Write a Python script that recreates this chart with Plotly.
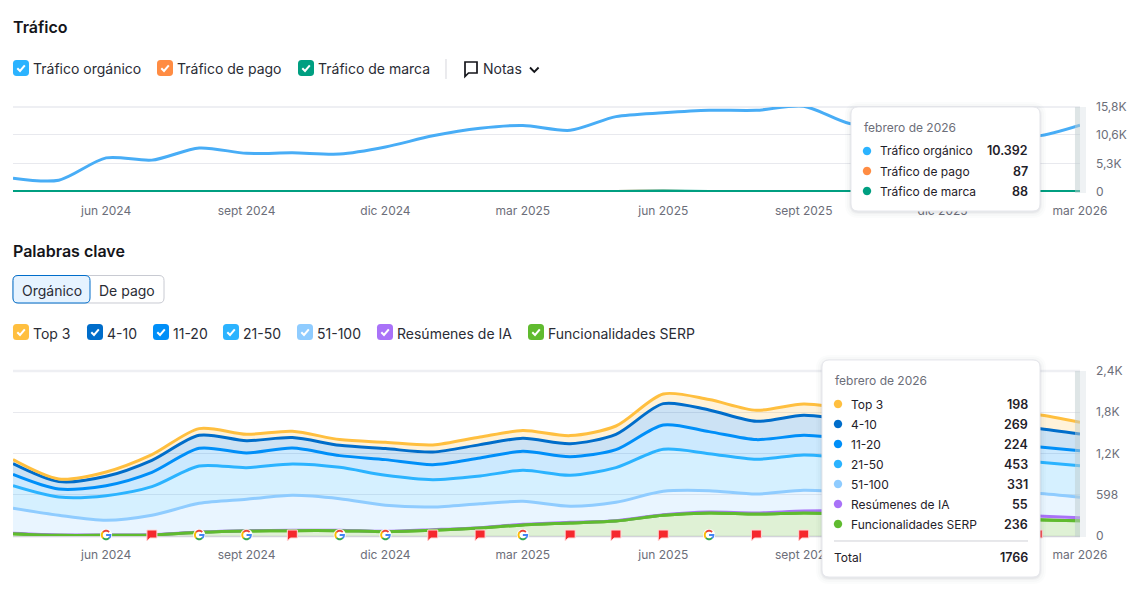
import math
import pandas as pd
import plotly.graph_objects as go

W, H = 1142, 593

# datos mensuales
dates = pd.date_range("2024-04-01", "2026-03-01", freq="MS")

organic = [2577, 2200, 6339, 5925, 8182, 7185, 7280, 7054, 8370, 10440, 11850, 12358,
           11474, 14013, 14728, 15198, 15180, 15932, 12734, 12415, 11850, 10722, 10392, 12415]
paid = [60, 55, 50, 50, 55, 55, 50, 50, 55, 55, 60, 60,
        60, 80, 150, 70, 60, 60, 60, 70, 80, 85, 87, 80]
brand = [70, 70, 75, 75, 80, 80, 80, 80, 85, 85, 85, 85,
         90, 110, 180, 100, 90, 90, 90, 90, 90, 90, 88, 85]

top3 = [59, 38, 63, 82, 97, 92, 92, 83, 92, 102, 111, 112,
        117, 121, 141, 151, 160, 165, 170, 180, 190, 190, 198, 170]
pos4_10 = [155, 107, 136, 175, 189, 179, 151, 150, 160, 184, 194, 189,
           189, 223, 310, 315, 266, 291, 270, 260, 260, 270, 269, 243]
pos11_20 = [165, 117, 145, 208, 258, 214, 232, 170, 228, 218, 262, 277,
            271, 262, 354, 320, 286, 286, 280, 270, 270, 240, 224, 218]
pos21_50 = [329, 266, 359, 417, 543, 460, 456, 456, 437, 398, 403, 451,
            451, 504, 611, 538, 505, 515, 500, 540, 540, 490, 453, 460]
pos51_100 = [364, 286, 213, 282, 417, 456, 510, 461, 378, 330, 349, 334,
             233, 267, 340, 311, 276, 300, 275, 290, 315, 320, 331, 297]
ai_overviews = [5, 5, 5, 4, 5, 5, 4, 4, 5, 10, 5, 10,
                10, 5, 9, 14, 15, 29, 40, 50, 55, 55, 55, 43]
serp = [34, 10, 10, 15, 53, 73, 78, 78, 63, 82, 116, 160,
        189, 218, 301, 335, 320, 335, 325, 310, 290, 265, 236, 223]

x_tick_dates = ["2024-06-01", "2024-09-01", "2024-12-01", "2025-03-01",
                "2025-06-01", "2025-09-01", "2025-12-01", "2026-03-01"]
x_tick_labels = ["jun 2024", "sept 2024", "dic 2024", "mar 2025",
                 "jun 2025", "sept 2025", "dic 2025", "mar 2026"]

traffic_ticks = [0, 5300, 10600, 15800]
traffic_labels = ["0", "5,3K", "10,6K", "15,8K"]
keyword_ticks = [0, 598, 1200, 1800, 2400]
keyword_labels = ["0", "598", "1,2K", "1,8K", "2,4K"]

google_notes = ["2024-06-01", "2024-08-01", "2024-09-01", "2024-11-01", "2024-12-01",
                "2025-03-01", "2025-07-01"]
flag_notes = ["2024-07-01", "2024-10-01", "2025-01-01", "2025-02-01", "2025-04-01",
              "2025-05-01", "2025-06-01", "2025-08-01", "2025-09-01", "2026-02-01"]

traffic_legend = [("Tráfico orgánico", "#2BB3FF", 13), ("Tráfico de pago", "#FF8C43", 157),
                  ("Tráfico de marca", "#009F81", 298)]
keyword_legend = [("Top 3", "#FFBF3F", 13), ("4-10", "#006DCA", 87), ("11-20", "#008FF8", 153),
                  ("21-50", "#2BB3FF", 223), ("51-100", "#8FCCFF", 297),
                  ("Resúmenes de IA", "#A972F8", 377), ("Funcionalidades SERP", "#60BB2F", 528)]

traffic_tip = [("Tráfico orgánico", "#2BB3FF", "10.392"), ("Tráfico de pago", "#FF8C43", "87"),
               ("Tráfico de marca", "#009F81", "88")]
keyword_tip = [("Top 3", "#FFBF3F", "198"), ("4-10", "#006DCA", "269"), ("11-20", "#008FF8", "224"),
               ("21-50", "#2BB3FF", "453"), ("51-100", "#8FCCFF", "331"),
               ("Resúmenes de IA", "#A972F8", "55"), ("Funcionalidades SERP", "#60BB2F", "236")]

FONT = "Inter"
DARK = "#1F2129"
GREY = "#6C6E79"
GRID = "#E8E9EE"


def px(x):
    return x / W


def py(y):
    return 1 - y / H


def round_rect(x0, y0, x1, y1, r):
    # rectangulo redondeado en coordenadas de pixel de la pagina
    pts = [("M", x0 + r, y0), ("L", x1 - r, y0), ("Q", x1, y0, x1, y0 + r), ("L", x1, y1 - r),
           ("Q", x1, y1, x1 - r, y1), ("L", x0 + r, y1), ("Q", x0, y1, x0, y1 - r),
           ("L", x0, y0 + r), ("Q", x0, y0, x0 + r, y0)]
    return poly_path(pts) + " Z"


def poly_path(pts):
    out = []
    for p in pts:
        cmd, vals = p[0], p[1:]
        coords = []
        for i in range(0, len(vals), 2):
            coords.append(f"{px(vals[i]):.5f},{py(vals[i + 1]):.5f}")
        out.append(cmd + " ".join(coords))
    return " ".join(out)


shapes = []
annotations = []


def add_path(path, fill=None, line=None, width=0, layer="above"):
    s = dict(type="path", xref="paper", yref="paper", path=path, layer=layer,
             line=dict(color=line if line else "rgba(0,0,0,0)", width=width))
    if fill:
        s["fillcolor"] = fill
    shapes.append(s)


def add_text(text, x, y, size=14, color=DARK, anchor="left", weight=400):
    annotations.append(dict(text=text, x=px(x), y=py(y), xref="paper", yref="paper", showarrow=False,
                            xanchor=anchor, yanchor="middle", borderpad=0, borderwidth=0,
                            font=dict(family=FONT, size=size, color=color, weight=weight)))


def add_checkbox(x, y, color):
    add_path(round_rect(x, y - 8, x + 16, y + 8, 3.5), fill=color)
    add_path(poly_path([("M", x + 4.3, y + 0.3), ("L", x + 7, y + 3), ("L", x + 11.8, y - 2.6)]),
             line="white", width=2)


def add_dot(x, y, color, r=4.2):
    pts = [("M", x + r, y)]
    for i in range(1, 25):
        a = 2 * math.pi * i / 24
        pts.append(("L", x + r * math.cos(a), y + r * math.sin(a)))
    add_path(poly_path(pts) + " Z", fill=color)


def add_tooltip(x0, y0, x1, y1, title, rows, row_top):
    for grow, alpha in [(6, 0.015), (4, 0.02), (2, 0.03), (1, 0.04)]:
        add_path(round_rect(x0 - grow, y0 - grow + 1, x1 + grow, y1 + grow + 1, 8 + grow),
                 fill=f"rgba(30,35,60,{alpha})")
    add_path(round_rect(x0, y0, x1, y1, 7), fill="white", line="#E6E7EC", width=1)
    add_text(title, x0 + 12.5, y0 + 20, size=12, color=GREY)
    for i, (name, color, value) in enumerate(rows):
        y = row_top + i * 20
        add_dot(x0 + 16, y, color)
        add_text(name, x0 + 29, y, size=12, color=DARK)
        add_text(value, x1 - 12, y, size=12.5, color=DARK, anchor="right", weight=600)


def note_shape(date, path, fill=None, line=None, width=0):
    # yref paper para que no lo recorte el area del grafico
    s = dict(type="path", xref="x2", yref="paper", xsizemode="pixel", ysizemode="pixel",
             xanchor=date, yanchor=py(536), path=path, layer="above",
             line=dict(color=line if line else "rgba(0,0,0,0)", width=width))
    if fill:
        s["fillcolor"] = fill
    shapes.append(s)


def arc_path(a0, a1, r=4.3, cy=1):
    pts = []
    steps = 8
    for i in range(steps + 1):
        a = math.radians(a0 + (a1 - a0) * i / steps)
        pts.append(f"{r * math.cos(a):.2f},{cy + r * math.sin(a):.2f}")
    return "M" + " L".join(pts)


fig = go.Figure()

# Trafico
for name, values, color in [("Tráfico orgánico", organic, "#48ADF6"),
                            ("Tráfico de pago", paid, "#FF8C43"),
                            ("Tráfico de marca", brand, "#009F81")]:
    fig.add_trace(go.Scatter(x=dates, y=values, name=name, mode="lines", xaxis="x", yaxis="y",
                             line=dict(color=color, width=3, shape="spline", smoothing=0.8),
                             cliponaxis=False, showlegend=False))

# Palabras clave, apiladas de abajo hacia arriba
stack = [("Funcionalidades SERP", serp, "#60BB2F", "rgba(96,187,47,0.2)"),
         ("Resúmenes de IA", ai_overviews, "#A972F8", "rgba(169,114,248,0.2)"),
         ("51-100", pos51_100, "#8FCCFF", "rgba(143,204,255,0.2)"),
         ("21-50", pos21_50, "#2BB3FF", "rgba(43,179,255,0.2)"),
         ("11-20", pos11_20, "#008FF8", "rgba(0,143,248,0.2)"),
         ("4-10", pos4_10, "#006DCA", "rgba(0,109,202,0.2)"),
         ("Top 3", top3, "#FFBF3F", "rgba(255,191,63,0.2)")]
for name, values, color, fill in stack:
    fig.add_trace(go.Scatter(x=dates, y=values, name=name, mode="lines", xaxis="x2", yaxis="y2",
                             stackgroup="kw", fillcolor=fill,
                             line=dict(color=color, width=3, shape="spline", smoothing=0.8),
                             cliponaxis=False, showlegend=False))

# la linea verde va por encima de la morada
fig.add_trace(go.Scatter(x=dates, y=serp, mode="lines", xaxis="x2", yaxis="y2",
                         line=dict(color="#60BB2F", width=3, shape="spline", smoothing=0.8),
                         cliponaxis=False, showlegend=False))

# linea superior mas gruesa y base del grafico inferior
add_path(poly_path([("M", 13, 107), ("L", 1080, 107)]), line="#EEEFF3", width=2, layer="below")
add_path(poly_path([("M", 13, 371), ("L", 1080, 371)]), line="#EEEFF3", width=2.5, layer="below")
add_path(poly_path([("M", 13, 536.5), ("L", 1080, 536.5)]), line="#D2D3D9", width=1.5, layer="below")

# banda gris a la derecha de cada grafico
for y0, y1 in [(107, 193), (371, 537)]:
    add_path(round_rect(1075, y0, 1080, y1, 0), fill="rgba(190,203,205,0.5)")
    add_path(round_rect(1080, y0, 1086, y1, 0), fill="rgba(205,214,220,0.32)")

# notas sobre el eje
for d in flag_notes:
    note_shape(d, "M-5,6 L5,6 L5,-2 L-2,-2 L-5,-5 Z", fill="#F5282D", line="#FFD9D9", width=1)
for d in google_notes:
    note_shape(d, "M-6,1 C-6,9 6,9 6,1 C6,-7 -6,-7 -6,1 Z", fill="white")
    note_shape(d, arc_path(135, 225), line="#FBBC05", width=1.9)
    note_shape(d, arc_path(225, 315), line="#34A853", width=1.9)
    note_shape(d, arc_path(315, 360) + " L0,1", line="#4285F4", width=1.9)
    note_shape(d, arc_path(45, 135), line="#EA4335", width=1.9)

# cabecera de Trafico
add_text("Tráfico", 13, 27, size=16, weight=600, color="#14151A")
for name, color, x in traffic_legend:
    add_checkbox(x, 68, color)
    add_text(name, x + 20, 69, size=14, color="#2A2C35")
add_path(poly_path([("M", 446, 59), ("L", 446, 79)]), line="#D6D7DD", width=1)
add_path(poly_path([("M", 465, 62), ("L", 477, 62), ("L", 477, 73), ("L", 468.5, 73), ("L", 465, 76.5)]) + " Z",
         line="#14151A", width=1.7)
add_text("Notas", 483, 69, size=14, color="#2A2C35")
add_path(poly_path([("M", 530, 67.5), ("L", 534.3, 71.8), ("L", 538.6, 67.5)]), line="#14151A", width=1.9)

# cabecera de Palabras clave
add_text("Palabras clave", 13, 251, size=16, weight=600, color="#14151A")
add_path(round_rect(13, 275.5, 164, 303, 5), fill="white", line="#C8CAD2", width=1)
add_path(round_rect(13, 275.5, 90, 303, 5), fill="#E6F3FF", line="#006DCA", width=1)
add_text("Orgánico", 51.5, 290, size=14, color="#2A2C35", anchor="center")
add_text("De pago", 127, 290, size=14, color="#2A2C35", anchor="center")
for name, color, x in keyword_legend:
    add_checkbox(x, 332, color)
    add_text(name, x + 20, 333, size=14, color="#2A2C35")

# tooltips
add_tooltip(851, 107, 1040, 211, "febrero de 2026", traffic_tip, 151)
add_tooltip(822, 360, 1040, 577, "febrero de 2026", keyword_tip, 404)
add_path(poly_path([("M", 834, 541), ("L", 1028, 541)]), line="#CFD0D6", width=1)
add_text("Total", 834, 557, size=12, color=DARK)
add_text("1766", 1028, 557, size=12.5, color=DARK, anchor="right", weight=600)

x_common = dict(type="date", range=["2024-04-01", "2026-03-01"], domain=[px(13), px(1080)],
                tickmode="array", tickvals=x_tick_dates, ticktext=x_tick_labels,
                showgrid=False, showline=False, zeroline=False, ticks="", ticklabelstandoff=10,
                tickfont=dict(family=FONT, size=12, color=GREY))
y_common = dict(side="right", tickmode="array", showgrid=True, gridcolor=GRID, gridwidth=1,
                zeroline=False, showline=False, ticks="", ticklabelstandoff=15,
                tickfont=dict(family=FONT, size=12, color=GREY))

fig.update_layout(
    width=W, height=H, autosize=False, margin=dict(l=0, r=0, t=0, b=0, autoexpand=False),
    paper_bgcolor="white", plot_bgcolor="white", showlegend=False, hovermode=False,
    font=dict(family=FONT),
    xaxis=dict(anchor="y", **x_common),
    xaxis2=dict(anchor="y2", **x_common),
    yaxis=dict(anchor="x", domain=[py(192), py(107)], range=[0, 15800], tickvals=traffic_ticks,
               ticktext=traffic_labels, **y_common),
    yaxis2=dict(anchor="x2", domain=[py(536), py(371)], range=[0, 2400], tickvals=keyword_ticks,
                ticktext=keyword_labels, **y_common),
    shapes=shapes, annotations=annotations,
)

fig.write_html("out.html", config=dict(displayModeBar=False),
               post_script="document.body.style.margin='0';document.body.style.overflow='hidden';")
